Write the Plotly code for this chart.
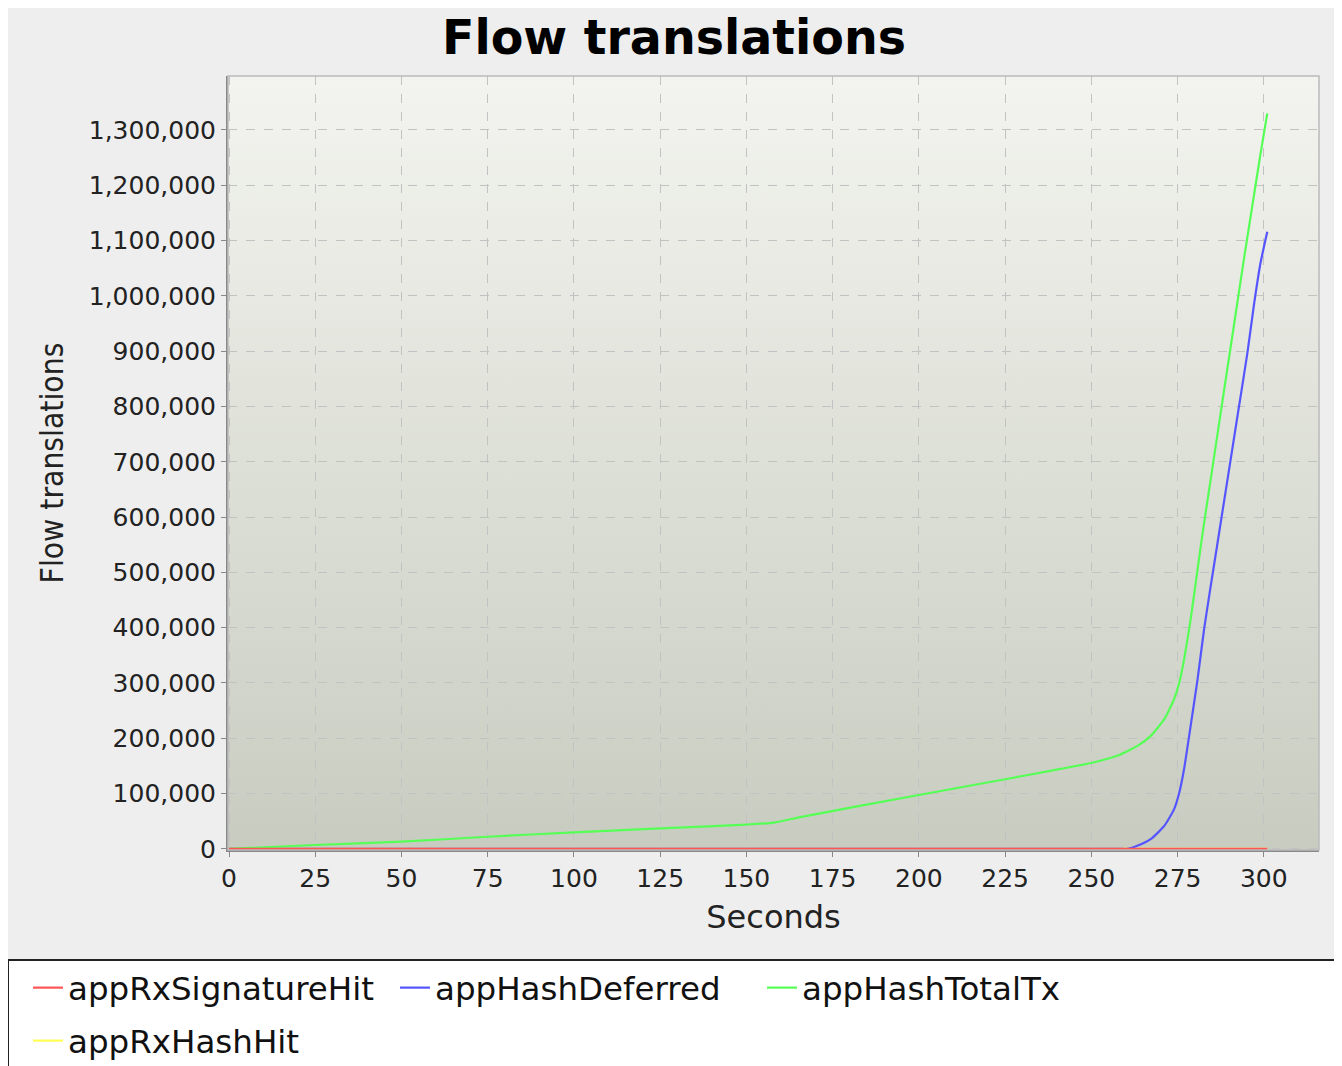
import base64

import plotly.graph_objects as go

# Flow translations over time

series_names = ["appRxSignatureHit", "appHashDeferred", "appHashTotalTx", "appRxHashHit"]
series_colors = ["#FF5555", "#5555FF", "#55FF55", "#FFFF55"]

sig_hit_x = [0, 301]
sig_hit_y = [0, 0]

hash_hit_x = [0, 301]
hash_hit_y = [0, 0]

deferred_x = [0, 150, 258, 260.6, 263.5, 267.3, 271.2, 274, 275.5, 276.9, 278.8,
              280.8, 282.7, 284.6, 286.5, 289.4, 292.3, 295.2, 297.1, 299, 301]
deferred_y = [0, 0, 0, 0, 6000, 18000, 42000, 72000, 102000, 145000, 223000,
              307000, 398000, 475000, 550000, 665000, 780000, 895000, 982000, 1058000, 1116000]

total_x = [0, 25, 50, 75, 100, 125, 150, 158, 166, 200, 225, 238.5, 250, 257.7,
           263.5, 267.3, 271.2, 274, 275.5, 276.9, 278.8, 280.8, 282.7, 284.6,
           288.5, 291.3, 294.2, 297.1, 299, 301]
total_y = [0, 7000, 13000, 22000, 30000, 37000, 44000, 47500, 58000, 97500, 126000,
           141600, 155400, 168700, 186700, 204800, 235000, 271000, 301000, 343000,
           415600, 506000, 590000, 668000, 830000, 945000, 1065000, 1180000, 1255000, 1330000]

x_ticks = [0, 25, 50, 75, 100, 125, 150, 175, 200, 225, 250, 275, 300]
y_ticks = [i * 100000 for i in range(14)]

# page adds an 8px margin, so the figure is laid out 8px smaller
OFF = 8
W, H = 1342 - OFF, 1066 - OFF
L, T = 228 - OFF, 76 - OFF
R = W - (1319 - OFF)
B = H - (850 - OFF)
pw, ph = W - L - R, H - T - B


def px_x(x):
    return (x - OFF - L) / pw


def px_y(y):
    return (T + ph - (y - OFF)) / ph


font = "DejaVu Sans"

traces = []
for name, color, xs, ys, leg in [
    (series_names[3], series_colors[3], hash_hit_x, hash_hit_y, "legend2"),
    (series_names[1], series_colors[1], deferred_x, deferred_y, "legend"),
    (series_names[2], series_colors[2], total_x, total_y, "legend"),
    (series_names[0], series_colors[0], sig_hit_x, sig_hit_y, "legend"),
]:
    traces.append(go.Scatter(x=xs, y=ys, mode="lines", name=name, legend=leg,
                             line=dict(color=color, width=2.2, shape="spline", smoothing=0.5)))

fig = go.Figure(traces)

# plot background gradient (light at top, grey-green at bottom)
svg = ('<svg xmlns="http://www.w3.org/2000/svg" width="100" height="100" preserveAspectRatio="none">'
       '<defs><linearGradient id="g" x1="0" y1="0" x2="0" y2="1">'
       '<stop offset="0" stop-color="#F3F4EF"/><stop offset="1" stop-color="#C8CCC0"/>'
       '</linearGradient></defs><rect width="100" height="100" fill="url(#g)"/></svg>')
bg_uri = "data:image/svg+xml;base64," + base64.b64encode(svg.encode()).decode()
fig.add_layout_image(source=bg_uri, xref="paper", yref="paper", x=0, y=1,
                     sizex=1, sizey=1, sizing="stretch", xanchor="left",
                     yanchor="top", layer="below")

# legend box
fig.add_shape(type="rect", xref="paper", yref="paper",
              x0=px_x(8), x1=px_x(1336), y0=px_y(1080), y1=px_y(960),
              fillcolor="white", line=dict(color="#222222", width=2), layer="below")
# light plot outline
fig.add_shape(type="rect", xref="paper", yref="paper", x0=0, x1=1, y0=0, y1=1,
              line=dict(color="#BBBBBB", width=1.5), layer="above")

axis_common = dict(
    showline=True, linecolor="#888888", linewidth=2,
    ticks="outside", ticklen=5, tickcolor="#888888", tickwidth=1,
    showgrid=True, gridcolor="#C2C2C2", griddash="dash", gridwidth=1,
    zeroline=False, tickfont=dict(family=font, size=25, color="#222222"),
)

legend_common = dict(orientation="h", xanchor="left", yanchor="middle",
                     bgcolor="rgba(0,0,0,0)", borderwidth=0,
                     entrywidth=322, entrywidthmode="pixels",
                     font=dict(family=font, size=32.5, color="#111111"))

fig.update_layout(
    width=W, height=H,
    margin=dict(l=L, r=R, t=T, b=B, pad=0, autoexpand=False),
    paper_bgcolor="#EEEEEE",
    plot_bgcolor="rgba(0,0,0,0)",
    title=dict(text="Flow translations", x=(674 - OFF) / W, xref="container", xanchor="center",
               y=1 - (37 - OFF) / H, yref="container", yanchor="middle",
               font=dict(family=font, size=47.5, color="#000000", weight="bold")),
    xaxis=dict(range=[-0.3, 316], tickvals=x_ticks,
               title=dict(text="Seconds", standoff=14,
                          font=dict(family=font, size=32, color="#222222")),
               **axis_common),
    yaxis=dict(range=[-2000, 1397500], tickvals=y_ticks, tickformat=",d",
               title=dict(text="Flow translations", standoff=16,
                          font=dict(family="DejaVu Sans Condensed, DejaVu Sans", size=31.5,
                                    color="#222222")),
               **axis_common),
    legend=dict(x=px_x(28), y=px_y(988), traceorder="normal", **legend_common),
    legend2=dict(x=px_x(28), y=px_y(1041), **legend_common),
    showlegend=True,
)

# legend order as in the reference
order = {series_names[0]: 0, series_names[1]: 1, series_names[2]: 2, series_names[3]: 3}
for tr in fig.data:
    tr.legendrank = order[tr.name]

fig.write_html("out.html")
